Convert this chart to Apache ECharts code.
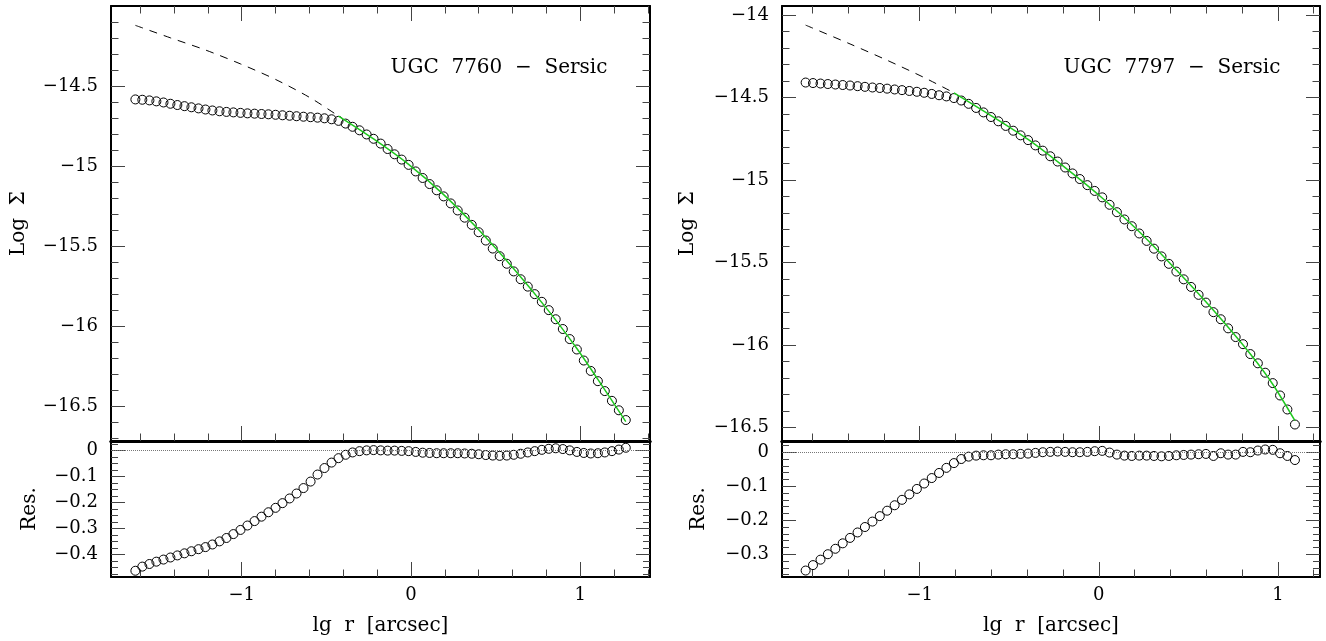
<!DOCTYPE html>
<html>
<head>
<meta charset="utf-8">
<title>UGC 7760 / UGC 7797 - Sersic</title>
<script src="https://cdn.jsdelivr.net/npm/echarts@6.0.0/dist/echarts.min.js"></script>
<style>
  html, body { margin: 0; padding: 0; background: #fff; }
  #chart { width: 1326px; height: 641px; }
</style>
</head>
<body>
<div id="chart"></div>
<script>
// ---- UGC 7760 ----
var lgR7760 = [-1.628, -1.587, -1.545, -1.504, -1.462, -1.421, -1.380, -1.338, -1.297, -1.255,
  -1.214, -1.173, -1.131, -1.090, -1.049, -1.007, -0.966, -0.924, -0.883, -0.842,
  -0.800, -0.759, -0.717, -0.676, -0.635, -0.593, -0.552, -0.511, -0.469, -0.428,
  -0.386, -0.345, -0.304, -0.262, -0.221, -0.179, -0.138, -0.097, -0.055, -0.014,
  0.028, 0.069, 0.110, 0.152, 0.193, 0.235, 0.276, 0.317, 0.359, 0.400,
  0.442, 0.483, 0.524, 0.566, 0.607, 0.648, 0.690, 0.731, 0.773, 0.814,
  0.855, 0.897, 0.938, 0.980, 1.021, 1.062, 1.104, 1.145, 1.187, 1.228, 1.269];
var logSigma7760 = [-14.584, -14.586, -14.590, -14.596, -14.603, -14.611, -14.619, -14.626, -14.633, -14.640,
  -14.647, -14.653, -14.658, -14.662, -14.665, -14.668, -14.671, -14.673, -14.675, -14.677,
  -14.680, -14.683, -14.686, -14.689, -14.692, -14.695, -14.698, -14.702, -14.708, -14.718,
  -14.735, -14.755, -14.777, -14.803, -14.830, -14.860, -14.894, -14.927, -14.960, -14.993,
  -15.034, -15.075, -15.113, -15.152, -15.190, -15.234, -15.278, -15.323, -15.368, -15.414,
  -15.466, -15.516, -15.564, -15.611, -15.659, -15.708, -15.754, -15.801, -15.849, -15.901,
  -15.958, -16.019, -16.082, -16.147, -16.216, -16.281, -16.345, -16.407, -16.468, -16.527, -16.588];
var res7760 = [-0.463, -0.447, -0.437, -0.428, -0.420, -0.412, -0.404, -0.396, -0.388, -0.380,
  -0.372, -0.362, -0.350, -0.337, -0.322, -0.306, -0.289, -0.272, -0.255, -0.238,
  -0.221, -0.203, -0.185, -0.166, -0.145, -0.120, -0.093, -0.068, -0.047, -0.030,
  -0.017, -0.008, -0.003, 0.000, 0.001, 0.000, -0.001, -0.001, -0.002, -0.003,
  -0.006, -0.009, -0.010, -0.011, -0.011, -0.011, -0.011, -0.012, -0.013, -0.015,
  -0.018, -0.020, -0.021, -0.020, -0.017, -0.013, -0.008, -0.003, 0.002, 0.006,
  0.008, 0.005, 0.000, -0.006, -0.010, -0.012, -0.011, -0.008, -0.003, 0.003, 0.010];
var sersicX7760 = [-1.628, -1.421, -1.214, -1.007, -0.800, -0.593, -0.428, -0.221, -0.014, 0.193, 0.400, 0.607, 0.814, 0.980, 1.104, 1.269];
var sersicY7760 = [-14.121, -14.199, -14.275, -14.362, -14.459, -14.575, -14.688, -14.831, -14.990, -15.179, -15.399, -15.642, -15.907, -16.141, -16.334, -16.598];
var fitFrom7760 = -0.428;

// ---- UGC 7797 ----
var lgR7797 = [-1.637, -1.596, -1.554, -1.513, -1.471, -1.430, -1.389, -1.347, -1.306, -1.264,
  -1.223, -1.182, -1.140, -1.099, -1.058, -1.016, -0.975, -0.933, -0.892, -0.851,
  -0.809, -0.768, -0.727, -0.685, -0.644, -0.602, -0.561, -0.520, -0.478, -0.437,
  -0.395, -0.354, -0.313, -0.271, -0.230, -0.188, -0.147, -0.106, -0.064, -0.023,
  0.019, 0.060, 0.101, 0.143, 0.184, 0.226, 0.267, 0.308, 0.350, 0.391,
  0.433, 0.474, 0.515, 0.557, 0.598, 0.640, 0.681, 0.722, 0.764, 0.805,
  0.846, 0.888, 0.929, 0.971, 1.012, 1.053, 1.095];
var logSigma7797 = [-14.409, -14.412, -14.415, -14.418, -14.421, -14.424, -14.427, -14.431, -14.435, -14.439,
  -14.442, -14.446, -14.451, -14.455, -14.460, -14.465, -14.471, -14.478, -14.486, -14.493,
  -14.503, -14.518, -14.538, -14.563, -14.590, -14.618, -14.644, -14.672, -14.701, -14.729,
  -14.758, -14.790, -14.822, -14.856, -14.888, -14.924, -14.960, -14.994, -15.031, -15.066,
  -15.105, -15.150, -15.195, -15.239, -15.280, -15.324, -15.369, -15.416, -15.463, -15.508,
  -15.555, -15.602, -15.648, -15.696, -15.743, -15.801, -15.844, -15.899, -15.952, -15.995,
  -16.055, -16.111, -16.168, -16.231, -16.306, -16.391, -16.482];
var res7797 = [-0.348, -0.332, -0.316, -0.300, -0.284, -0.268, -0.252, -0.236, -0.220, -0.204,
  -0.188, -0.172, -0.156, -0.140, -0.124, -0.108, -0.092, -0.076, -0.061, -0.046,
  -0.032, -0.020, -0.013, -0.010, -0.009, -0.009, -0.007, -0.006, -0.006, -0.005,
  -0.004, -0.002, 0.000, 0.001, 0.002, 0.001, 0.000, 0.000, 0.001, 0.003,
  0.004, -0.001, -0.007, -0.010, -0.011, -0.010, -0.010, -0.011, -0.012, -0.011,
  -0.009, -0.008, -0.007, -0.006, -0.005, -0.011, -0.003, -0.007, -0.007, 0.001,
  0.000, 0.005, 0.008, 0.007, -0.003, -0.011, -0.023];
var sersicX7797 = [-1.637, -1.389, -1.182, -0.975, -0.809, -0.602, -0.395, -0.188, 0.019, 0.226, 0.433, 0.640, 0.846, 0.971, 1.095];
var sersicY7797 = [-14.061, -14.175, -14.274, -14.379, -14.471, -14.609, -14.754, -14.925, -15.109, -15.314, -15.546, -15.790, -16.055, -16.238, -16.459];
var fitFrom7797 = -0.809;

// tick labels
var xTicks = [-1, 0, 1];
var logTicks7760 = [-14.5, -15, -15.5, -16, -16.5];
var logTicks7797 = [-14, -14.5, -15, -15.5, -16, -16.5];
var resTicks7760 = [0, -0.1, -0.2, -0.3, -0.4];
var resTicks7797 = [0, -0.1, -0.2, -0.3];

var FONT = 'DejaVu Serif';

function fmt(v) { return v < 0 ? '\u2212' + (-v) : String(v); }

// minor tick positions between a and b, skipping the labelled ones
function minorTicks(a, b, step, major) {
  var out = [];
  var n = Math.round((b - a) / step);
  for (var i = 0; i <= n; i++) {
    var v = +(a + i * step).toFixed(4);
    var isMajor = major.some(function (m) { return Math.abs(m - v) < 1e-6; });
    if (!isMajor) out.push(v);
  }
  return out;
}

function zip(xs, ys) { return xs.map(function (x, i) { return [x, ys[i]]; }); }

var xAxes = [], yAxes = [], grids = [], series = [], titles = [];

function axisPair(list, grid, pos, min, max, major, minor, cfg) {
  var tickStyle = { color: '#444', width: 1 };
  var common = {
    gridIndex: grid, type: 'value', position: pos, min: min, max: max,
    splitLine: { show: false }, splitArea: { show: false }, silent: true
  };
  var main = Object.assign({}, common, {
    axisLine: { show: true, onZero: false, lineStyle: { color: '#000', width: cfg.lineWidth } },
    axisTick: { show: !!cfg.ticks, inside: true, length: cfg.majorLen, customValues: major, lineStyle: tickStyle },
    axisLabel: { show: !!cfg.labels, customValues: major, formatter: fmt, margin: cfg.margin || 10,
      color: '#000', fontFamily: FONT, fontSize: 18 }
  });
  if (cfg.name) {
    main.name = cfg.name;
    main.nameLocation = 'middle';
    main.nameGap = cfg.nameGap;
    main.nameTextStyle = { color: '#000', fontFamily: FONT, fontSize: 20 };
  }
  var sub = Object.assign({}, common, {
    axisLine: { show: false, onZero: false },
    axisTick: { show: !!cfg.ticks, inside: true, length: cfg.minorLen, customValues: minor, lineStyle: tickStyle },
    axisLabel: { show: false }
  });
  list.push(main, sub);
  return list.length - 2;
}

function buildPanel(p) {
  var gTop = grids.length;
  grids.push({ left: p.left, top: 6, width: p.width, height: 435 });
  var gRes = grids.length;
  grids.push({ left: p.left, top: 441, width: p.width, height: 136 });

  var xMinor = minorTicks(-1.6, p.xMinorEnd, 0.2, xTicks);

  // top panel frame
  var xt = axisPair(xAxes, gTop, 'bottom', p.xMin, p.xMax, xTicks, xMinor,
    { lineWidth: 3, ticks: true, majorLen: 15, minorLen: 7.5 });
  axisPair(xAxes, gTop, 'top', p.xMin, p.xMax, xTicks, xMinor,
    { lineWidth: 2, ticks: true, majorLen: 15, minorLen: 7.5 });
  var logMinor = minorTicks(p.logMinorFrom, -14.1, 0.1, p.logTicks);
  var yt = axisPair(yAxes, gTop, 'left', p.topMin, p.topMax, p.logTicks, logMinor,
    { lineWidth: 2, ticks: true, majorLen: 14, minorLen: 7.5, labels: true, margin: 13,
      name: 'Log  \u03a3', nameGap: p.logNameGap });
  axisPair(yAxes, gTop, 'right', p.topMin, p.topMax, p.logTicks, logMinor,
    { lineWidth: 2, ticks: true, majorLen: 14, minorLen: 7.5 });

  // residual panel frame
  var xr = axisPair(xAxes, gRes, 'bottom', p.xMin, p.xMax, xTicks, xMinor,
    { lineWidth: 2, ticks: true, majorLen: 15, minorLen: 7.5, labels: true, margin: 9,
      name: 'lg  r  [arcsec]', nameGap: 39 });
  axisPair(xAxes, gRes, 'top', p.xMin, p.xMax, [], [],
    { lineWidth: 3, ticks: false });
  var resMinor = minorTicks(p.resMinorFrom, p.resMinorTo, p.resMinorStep, p.resTicks);
  var yr = axisPair(yAxes, gRes, 'left', p.resMin, p.resMax, p.resTicks, resMinor,
    { lineWidth: 2, ticks: true, majorLen: 14, minorLen: 7, labels: true, margin: 13,
      name: 'Res.', nameGap: p.resNameGap });
  axisPair(yAxes, gRes, 'right', p.resMin, p.resMax, p.resTicks, resMinor,
    { lineWidth: 2, ticks: true, majorLen: 14, minorLen: 7 });

  var model = zip(p.sx, p.sy);
  var circle = { color: 'rgba(0,0,0,0)', borderColor: '#000', borderWidth: 1, opacity: 1 };

  series.push({
    type: 'line', xAxisIndex: xt, yAxisIndex: yt, showSymbol: false, smooth: 0.3, z: 2,
    data: model.filter(function (d) { return d[0] <= p.fitFrom + 1e-9; }),
    lineStyle: { color: '#000', width: 1, type: [8, 7] }
  });
  series.push({
    type: 'scatter', xAxisIndex: xt, yAxisIndex: yt, symbol: 'circle', symbolSize: 9, z: 3,
    data: zip(p.lgR, p.logS), itemStyle: circle
  });
  series.push({
    type: 'line', xAxisIndex: xt, yAxisIndex: yt, showSymbol: false, smooth: 0.3, z: 4,
    data: model.filter(function (d) { return d[0] >= p.fitFrom - 1e-9; }),
    lineStyle: { color: '#1fc81f', width: 1.5 }
  });
  series.push({
    type: 'scatter', xAxisIndex: xr, yAxisIndex: yr, symbol: 'circle', symbolSize: 9, z: 3,
    data: zip(p.lgR, p.res), itemStyle: circle,
    markLine: {
      silent: true, symbol: 'none', label: { show: false },
      lineStyle: { color: '#777', type: 'dotted', width: 1 },
      data: [{ yAxis: 0 }]
    }
  });

  titles.push({
    text: p.label, left: p.labelX, top: 53, textAlign: 'center',
    textStyle: { color: '#000', fontFamily: FONT, fontSize: 20, fontWeight: 'normal' }
  });
}

buildPanel({
  left: 111, width: 539, xMin: -1.772, xMax: 1.412, xMinorEnd: 1.4,
  topMin: -16.719, topMax: -14.0, logTicks: logTicks7760, logMinorFrom: -16.7, logNameGap: 82,
  resMin: -0.487, resMax: 0.036, resTicks: resTicks7760,
  resMinorFrom: -0.475, resMinorTo: 0.025, resMinorStep: 0.025, resNameGap: 71,
  lgR: lgR7760, logS: logSigma7760, res: res7760, sx: sersicX7760, sy: sersicY7760, fitFrom: fitFrom7760,
  label: 'UGC  7760  \u2212  Sersic', labelX: 494
});
buildPanel({
  left: 782, width: 538, xMin: -1.769, xMax: 1.235, xMinorEnd: 1.2,
  topMin: -16.582, topMax: -13.945, logTicks: logTicks7797, logMinorFrom: -16.5, logNameGap: 84,
  resMin: -0.367, resMax: 0.033, resTicks: resTicks7797,
  resMinorFrom: -0.36, resMinorTo: 0.02, resMinorStep: 0.02, resNameGap: 73,
  lgR: lgR7797, logS: logSigma7797, res: res7797, sx: sersicX7797, sy: sersicY7797, fitFrom: fitFrom7797,
  label: 'UGC  7797  \u2212  Sersic', labelX: 1167
});

var chart = echarts.init(document.getElementById('chart'), null, { renderer: 'canvas' });
chart.setOption({
  animation: false,
  backgroundColor: '#fff',
  title: titles,
  grid: grids,
  xAxis: xAxes,
  yAxis: yAxes,
  series: series
});
</script>
</body>
</html>
